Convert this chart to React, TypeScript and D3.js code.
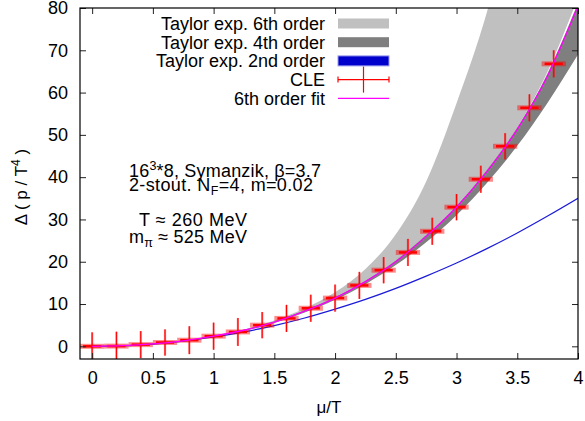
import * as React from "react";
import * as d3 from "d3";

const FONT = "'Liberation Sans', Arial, Helvetica, sans-serif";

// grid used for the Taylor bands and the fit curve (mu/T)
const muGrid = [0, 0.25, 0.5, 0.75, 1, 1.25, 1.5, 1.75, 2, 2.25, 2.5, 2.75, 3, 3.25, 3.5, 3.75, 4];

const order6Lo = [0, 0.14, 0.56, 1.3, 2.4, 3.8, 5.7, 8.3, 11.4, 15.3, 20.0, 26.0, 33.0, 41.5, 51.8, 65.0, 82.5];
const order6Hi = [0, 0.15, 0.6, 1.35, 2.5, 4.0, 6.1, 9.0, 12.8, 18.3, 26.5, 39.0, 57.5, 79.0, 107, 142, 185];

const order4Lo = [0, 0.13, 0.54, 1.25, 2.3, 3.65, 5.5, 8.0, 11.0, 14.7, 19.2, 24.6, 31.0, 38.6, 47.4, 57.6, 69.0];
const order4Hi = [0, 0.15, 0.58, 1.33, 2.45, 3.9, 5.85, 8.5, 11.6, 15.5, 20.3, 26.3, 33.2, 41.7, 51.8, 64.6, 81.2];

const order2 = [0, 0.1, 0.5, 1.2, 2.2, 3.4, 4.9, 6.7, 8.8, 11.1, 13.7, 16.6, 19.7, 23.1, 26.8, 30.8, 35.0];

const fit6 = [0, 0.14, 0.56, 1.3, 2.4, 3.8, 5.7, 8.3, 11.4, 15.3, 20.0, 26.0, 32.9, 41.3, 51.3, 64.0, 80.5];

// CLE measurements
const cleMu = [0, 0.2, 0.4, 0.6, 0.8, 1, 1.2, 1.4, 1.6, 1.8, 2, 2.2, 2.4, 2.6, 2.8, 3, 3.2, 3.4, 3.6, 3.8];
const cleVal = [0, 0.05, 0.4, 0.9, 1.45, 2.4, 3.4, 5.0, 6.6, 9.0, 11.4, 14.4, 18.0, 22.2, 27.2, 32.9, 39.5, 47.3, 56.4, 66.8];
const cleErr = [3.3, 3.4, 3.2, 3.1, 3.3, 3.2, 3.3, 3.1, 3.2, 3.2, 3.2, 3.2, 3.1, 3.2, 3.2, 3.1, 3.2, 3.1, 3.2, 3.2];
const cleMuErr = 0.1;

const xTicks = [0, 0.5, 1, 1.5, 2, 2.5, 3, 3.5, 4];
const yTicks = [0, 10, 20, 30, 40, 50, 60, 70, 80];

const legendItems = [
  { label: "Taylor exp. 6th order", kind: "band", color: "#c0c0c0" },
  { label: "Taylor exp. 4th order", kind: "band", color: "#7f7f7f" },
  { label: "Taylor exp. 2nd order", kind: "band", color: "#0000cc" },
  { label: "CLE", kind: "err", color: "#ff0000" },
  { label: "6th order fit", kind: "line", color: "#ff00ff" },
];

export default function App() {
  const ref = React.useRef<SVGSVGElement>(null);

  React.useEffect(() => {
    const svg = d3.select(ref.current);
    svg.selectAll("*").remove();

    const x = d3.scaleLinear().domain([-0.1, 4]).range([80, 578]);
    const y = d3.scaleLinear().domain([-3, 80]).range([359, 8]);

    svg
      .append("defs")
      .append("clipPath")
      .attr("id", "plotclip")
      .append("rect")
      .attr("x", 80)
      .attr("y", 8)
      .attr("width", 498)
      .attr("height", 351);

    const plot = svg.append("g").attr("clip-path", "url(#plotclip)");

    const band = (lo: number[], hi: number[]) =>
      d3
        .area<number>()
        .x((d) => x(d))
        .y0((_, i) => y(lo[i]))
        .y1((_, i) => y(hi[i]))
        .curve(d3.curveMonotoneX)(muGrid);

    const curve = (vals: number[]) =>
      d3
        .line<number>()
        .x((d) => x(d))
        .y((_, i) => y(vals[i]))
        .curve(d3.curveMonotoneX)(muGrid);

    plot.append("path").attr("d", band(order6Lo, order6Hi)).attr("fill", "#c0c0c0");
    plot.append("path").attr("d", band(order4Lo, order4Hi)).attr("fill", "#7f7f7f");
    plot
      .append("path")
      .attr("d", curve(order2))
      .attr("fill", "none")
      .attr("stroke", "#1a1ad8")
      .attr("stroke-width", 1.2);

    // CLE error bars
    const cle = plot.selectAll(".cle").data(cleMu).enter().append("g").attr("class", "cle");
    cle
      .append("line")
      .attr("x1", (d) => x(d))
      .attr("x2", (d) => x(d))
      .attr("y1", (_, i) => y(cleVal[i] - cleErr[i]))
      .attr("y2", (_, i) => y(cleVal[i] + cleErr[i]))
      .attr("stroke", "#ff0000")
      .attr("stroke-opacity", 0.5)
      .attr("stroke-width", 2.2);
    cle
      .append("line")
      .attr("x1", (d) => x(d))
      .attr("x2", (d) => x(d))
      .attr("y1", (_, i) => y(cleVal[i] - cleErr[i]))
      .attr("y2", (_, i) => y(cleVal[i] + cleErr[i]))
      .attr("stroke", "#ff0000")
      .attr("stroke-width", 1);
    cle
      .append("line")
      .attr("x1", (d) => x(d - cleMuErr))
      .attr("x2", (d) => x(d + cleMuErr))
      .attr("y1", (_, i) => y(cleVal[i]))
      .attr("y2", (_, i) => y(cleVal[i]))
      .attr("stroke", "#ff0000")
      .attr("stroke-opacity", 0.45)
      .attr("stroke-width", 5);
    cle
      .append("line")
      .attr("x1", (d) => x(d - cleMuErr * 0.75))
      .attr("x2", (d) => x(d + cleMuErr * 0.75))
      .attr("y1", (_, i) => y(cleVal[i]))
      .attr("y2", (_, i) => y(cleVal[i]))
      .attr("stroke", "#ff0000")
      .attr("stroke-width", 2.5);

    plot
      .append("path")
      .attr("d", curve(fit6))
      .attr("fill", "none")
      .attr("stroke", "#ff00ff")
      .attr("stroke-width", 1.3);

    // axes, ticks mirrored inward on all four sides
    const styleAxis = (g: any) => {
      g.select(".domain").remove();
      g.selectAll(".tick line").attr("stroke", "#222");
      g.selectAll("text").attr("font-family", FONT).attr("font-size", 18).attr("fill", "#000");
    };

    svg
      .append("g")
      .attr("transform", "translate(0,359)")
      .call(d3.axisBottom(x).tickValues(xTicks).tickSize(-6).tickPadding(12.5).tickFormat((d) => String(d)))
      .call(styleAxis);
    svg
      .append("g")
      .attr("transform", "translate(0,8)")
      .call(d3.axisTop(x).tickValues(xTicks).tickSize(-6).tickFormat(() => ""))
      .call(styleAxis);
    svg
      .append("g")
      .attr("transform", "translate(80,0)")
      .call(d3.axisLeft(y).tickValues(yTicks).tickSize(-6).tickPadding(12).tickFormat((d) => String(d)))
      .call(styleAxis);
    svg
      .append("g")
      .attr("transform", "translate(578,0)")
      .call(d3.axisRight(y).tickValues(yTicks).tickSize(-6).tickFormat(() => ""))
      .call(styleAxis);

    svg
      .append("rect")
      .attr("x", 80)
      .attr("y", 8)
      .attr("width", 498)
      .attr("height", 351)
      .attr("fill", "none")
      .attr("stroke", "#000")
      .attr("stroke-width", 1.2);

    // axis titles
    svg
      .append("text")
      .attr("x", 329)
      .attr("y", 413)
      .attr("text-anchor", "middle")
      .attr("font-family", FONT)
      .attr("font-size", 17)
      .text("μ/T");

    const yl = svg
      .append("text")
      .attr("transform", "translate(27,187) rotate(-90)")
      .attr("text-anchor", "middle")
      .attr("font-family", FONT)
      .attr("font-size", 17);
    yl.append("tspan").text("Δ ( p / T");
    yl.append("tspan").attr("dy", -7).attr("font-size", 12).text("4");
    yl.append("tspan").attr("dy", 7).text(" )");

    // legend
    const leg = svg.append("g").attr("font-family", FONT).attr("font-size", 18);
    legendItems.forEach((it, i) => {
      const cy = 23.5 + i * 18.7;
      leg
        .append("text")
        .attr("x", 325)
        .attr("y", cy + 6.5)
        .attr("text-anchor", "end")
        .text(it.label);
      if (it.kind === "band") {
        leg
          .append("rect")
          .attr("x", 338)
          .attr("y", cy - 5)
          .attr("width", 51)
          .attr("height", 10)
          .attr("fill", it.color)
          .attr("stroke", it.color === "#0000cc" ? "#9999ee" : "none");
      } else if (it.kind === "err") {
        const e = leg.append("g").attr("stroke", it.color).attr("stroke-width", 1.2);
        e.append("line").attr("x1", 338).attr("x2", 389).attr("y1", cy).attr("y2", cy);
        e.append("line").attr("x1", 338).attr("x2", 338).attr("y1", cy - 3).attr("y2", cy + 3);
        e.append("line").attr("x1", 389).attr("x2", 389).attr("y1", cy - 3).attr("y2", cy + 3);
        e.append("line").attr("x1", 363.5).attr("x2", 363.5).attr("y1", cy - 13).attr("y2", cy + 13);
      } else {
        leg
          .append("line")
          .attr("x1", 338)
          .attr("x2", 389)
          .attr("y1", cy)
          .attr("y2", cy)
          .attr("stroke", it.color)
          .attr("stroke-width", 1.3);
      }
    });

    // run parameters
    const note = svg.append("g").attr("font-family", FONT).attr("font-size", 18);
    const l1 = note
      .append("text")
      .attr("x", 129)
      .attr("y", 177)
      .attr("textLength", 192)
      .attr("lengthAdjust", "spacing");
    l1.append("tspan").text("16");
    l1.append("tspan").attr("dy", -7).attr("font-size", 12.5).text("3");
    l1.append("tspan").attr("dy", 7).text("*8, Symanzik, β=3.7");
    const l2 = note
      .append("text")
      .attr("x", 129)
      .attr("y", 191)
      .attr("textLength", 184)
      .attr("lengthAdjust", "spacing");
    l2.append("tspan").text("2-stout. N");
    l2.append("tspan").attr("dy", 4).attr("font-size", 12.5).text("F");
    l2.append("tspan").attr("dy", -4).text("=4, m=0.02");
    note
      .append("text")
      .attr("x", 139)
      .attr("y", 225.5)
      .attr("textLength", 108)
      .attr("lengthAdjust", "spacing")
      .text("T ≈ 260 MeV");
    const l4 = note
      .append("text")
      .attr("x", 129)
      .attr("y", 242.5)
      .attr("textLength", 118)
      .attr("lengthAdjust", "spacing");
    l4.append("tspan").text("m");
    l4.append("tspan").attr("dy", 4).attr("font-size", 12.5).text("π");
    l4.append("tspan").attr("dy", -4).text(" ≈ 525 MeV");
  }, []);

  return (
    <div style={{ position: "absolute", left: 0, top: 0 }}>
      <svg ref={ref} width={585} height={421} style={{ display: "block", background: "#fff" }} />
    </div>
  );
}
